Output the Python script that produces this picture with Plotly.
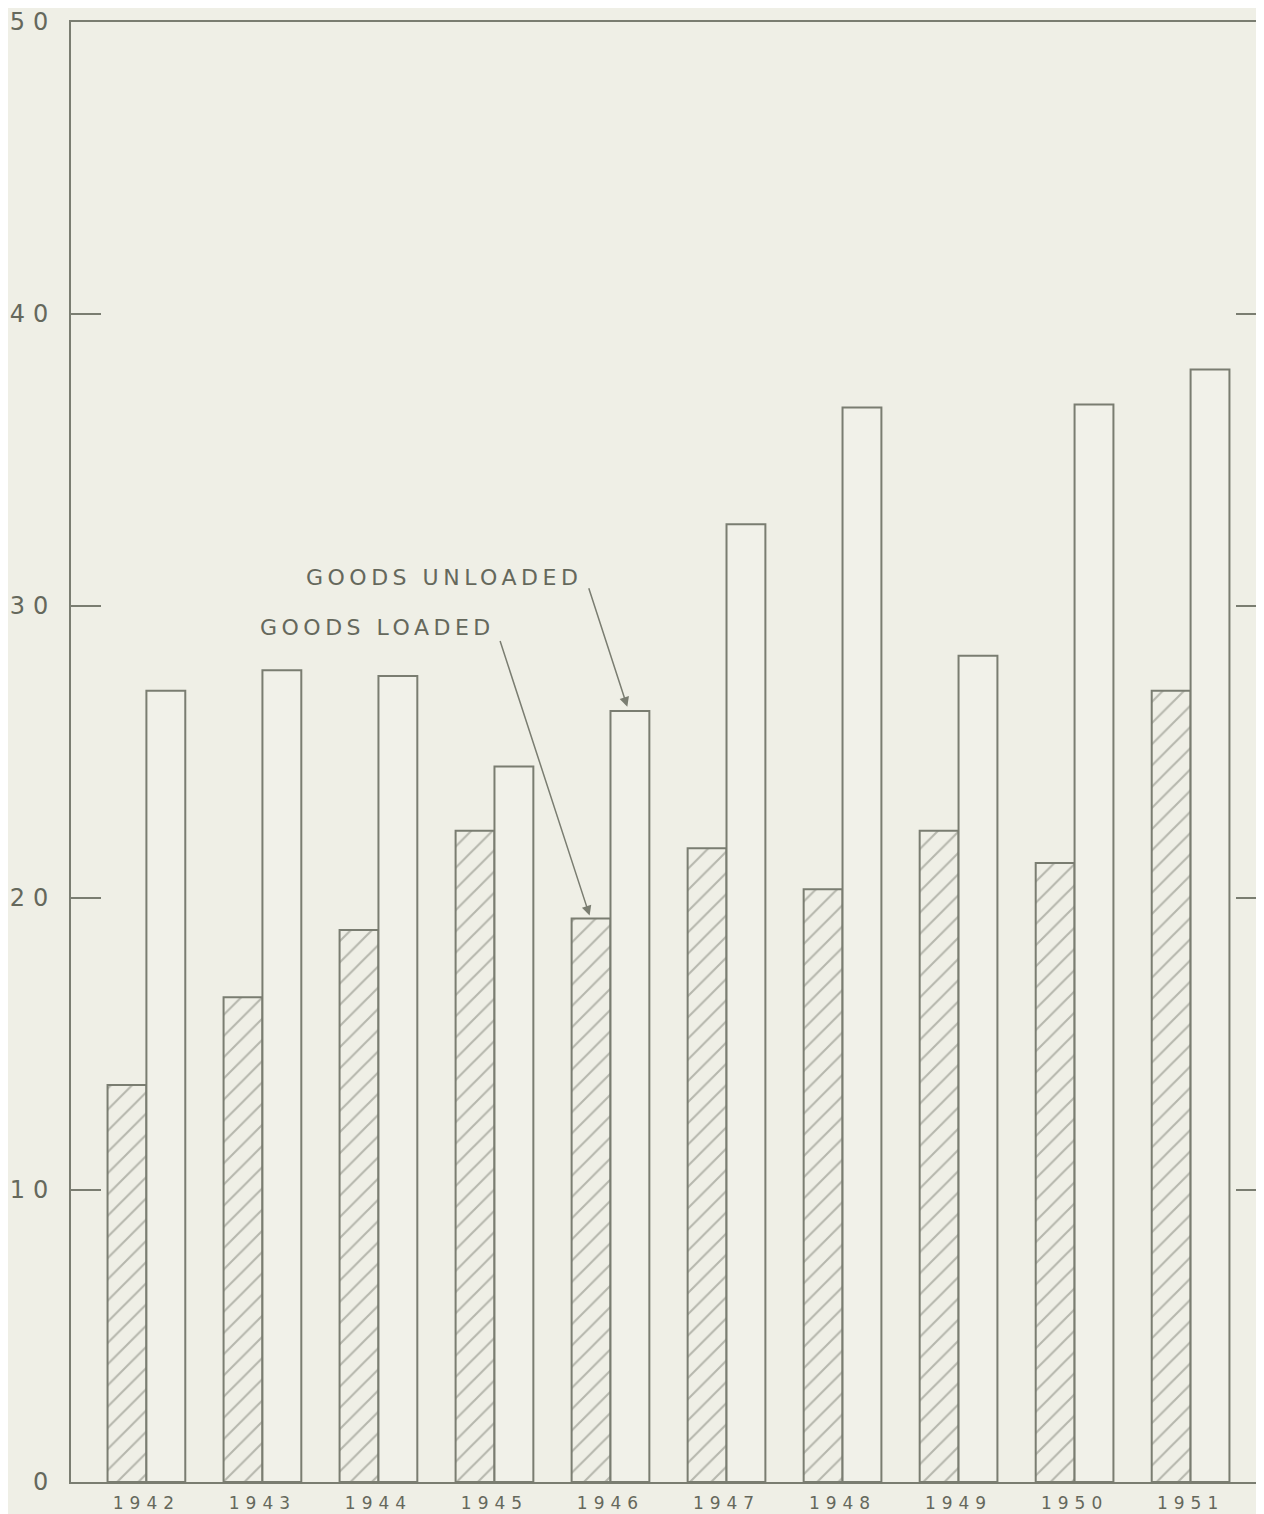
import plotly.graph_objects as go

years = ["1942", "1943", "1944", "1945", "1946", "1947", "1948", "1949", "1950", "1951"]
goods_loaded = [13.6, 16.6, 18.9, 22.3, 19.3, 21.7, 20.3, 22.3, 21.2, 27.1]
goods_unloaded = [27.1, 27.8, 27.6, 24.5, 26.4, 32.8, 36.8, 28.3, 36.9, 38.1]
y_tickvals = [0, 10, 20, 30, 40, 50]
y_ticktext = ["0", "10", "20", "30", "40", "50"]

BG = "#efefe6"
LINE = "#7a7d71"
TEXT = "#65685c"
FONT = "DejaVu Sans"


def spaced(s, px):
    return f'<span style="letter-spacing:{px}px">{s}</span>'


fig = go.Figure()
fig.add_trace(go.Bar(
    x=years, y=goods_loaded, name="Goods loaded",
    marker=dict(color=BG, line=dict(color=LINE, width=2),
                pattern=dict(shape="/", fgcolor="#7d8074", bgcolor=BG, size=15, solidity=0.14)),
    yaxis="y",
))
fig.add_trace(go.Bar(
    x=years, y=goods_unloaded, name="Goods unloaded",
    marker=dict(color="#f1f1e9", line=dict(color=LINE, width=2)),
    yaxis="y",
))

fig.update_layout(
    width=1258, height=1506,
    margin=dict(l=63, r=0, t=14, b=32, autoexpand=False),
    paper_bgcolor=BG, plot_bgcolor=BG,
    barmode="group", bargap=0.33, bargroupgap=0,
    showlegend=False,
    font=dict(family=FONT, color=TEXT),
    xaxis=dict(
        type="category", range=[-0.65, 9.65], automargin=False,
        tickvals=years, ticktext=[spaced(y, 6) for y in years],
        showline=True, linecolor=LINE, linewidth=2, mirror=True,
        ticks="", showgrid=False, zeroline=False, ticklabelstandoff=5,
        ticklabeloverflow="allow",
        tickfont=dict(size=17, color=TEXT, family=FONT),
    ),
    yaxis=dict(
        range=[0, 50], tickvals=y_tickvals, ticktext=[spaced(t, 8) for t in y_ticktext],
        automargin=False, ticklabeloverflow="allow",
        showline=True, linecolor=LINE, linewidth=2,
        ticks="inside", ticklen=30, tickwidth=2, tickcolor=LINE,
        showgrid=False, zeroline=False, ticklabelstandoff=8,
        tickfont=dict(size=24, color=TEXT, family=FONT),
    ),
    yaxis2=dict(
        range=[0, 50], tickvals=y_tickvals, overlaying="y", side="right",
        showline=False, ticks="inside", ticklen=30, tickwidth=2, tickcolor=LINE,
        showticklabels=False, showgrid=False, zeroline=False, automargin=False,
    ),
)

# invisible trace to activate the right-hand tick axis
fig.add_trace(go.Scatter(x=[years[0]], y=[0], yaxis="y2", mode="markers",
                         marker=dict(opacity=0), hoverinfo="skip", showlegend=False))

# labels
fig.add_annotation(x=2.568, y=30.96, xref="x", yref="y", text=spaced("GOODS UNLOADED", 4.5),
                   showarrow=False, font=dict(size=22, color=TEXT, family=FONT))
fig.add_annotation(x=1.995, y=29.25, xref="x", yref="y", text=spaced("GOODS LOADED", 4.5),
                   showarrow=False, font=dict(size=22, color=TEXT, family=FONT))
# arrows
fig.add_annotation(x=4.145, y=goods_unloaded[4] + 0.15, xref="x", yref="y", text="",
                   showarrow=True, ax=-39, ay=-120, arrowhead=2, arrowsize=1.3,
                   arrowwidth=1.5, arrowcolor=LINE)
fig.add_annotation(x=3.82, y=goods_loaded[4] + 0.1, xref="x", yref="y", text="",
                   showarrow=True, ax=-90, ay=-276, arrowhead=2, arrowsize=1.3,
                   arrowwidth=1.5, arrowcolor=LINE)

fig.write_html("out.html")
